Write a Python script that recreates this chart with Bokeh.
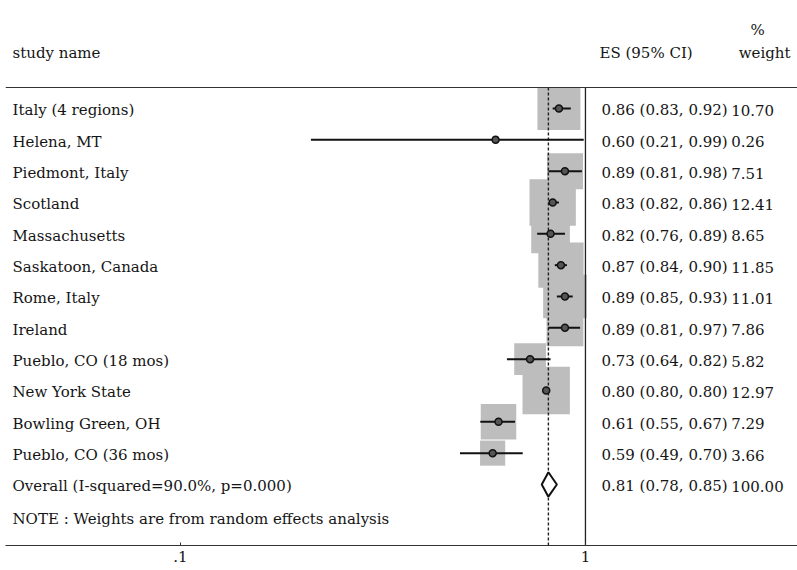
import numpy as np
from bokeh.plotting import figure
from bokeh.models import ColumnDataSource, Range1d, FixedTicker, Span
from bokeh.core.properties import value
from bokeh.embed import file_html
from bokeh.resources import INLINE

# ---- study-level results (effect size, 95% CI, random-effects weight %) ----
studies = ["Italy (4 regions)", "Helena, MT", "Piedmont, Italy", "Scotland",
           "Massachusetts", "Saskatoon, Canada", "Rome, Italy", "Ireland",
           "Pueblo, CO (18 mos)", "New York State", "Bowling Green, OH",
           "Pueblo, CO (36 mos)"]
es = [0.86, 0.60, 0.89, 0.83, 0.82, 0.87, 0.89, 0.89, 0.73, 0.80, 0.61, 0.59]
ci_low = [0.83, 0.21, 0.81, 0.82, 0.76, 0.84, 0.85, 0.81, 0.64, 0.80, 0.55, 0.49]
ci_high = [0.92, 0.99, 0.98, 0.86, 0.89, 0.90, 0.93, 0.97, 0.82, 0.80, 0.67, 0.70]
weight_pct = [10.70, 0.26, 7.51, 12.41, 8.65, 11.85, 11.01, 7.86, 5.82, 12.97, 7.29, 3.66]

# ---- pooled estimate ----
overall_label = "Overall (I-squared=90.0%, p=0.000)"
overall_es = 0.81
overall_low = 0.78
overall_high = 0.85
overall_weight = 100.00

note_text = "NOTE : Weights are from random effects analysis"
tick_values = [0.1, 1]
tick_labels = [".1", "1"]

# ---- layout constants ----
FONT = value("DejaVu Serif")
FS = "15px"
TXT = "#151515"
BOX_SCALE = 13.15          # square side in px per sqrt(weight %)
NAME_X = 0.0385            # left text column (data units on the log axis)
ES_X = 1.095               # "ES (95% CI)" column
W_X = 2.29                 # weight column
HEAD_Y = -1.85
PCT_Y = -2.58
TOP_RULE = -0.67
NOTE_Y = 13.05
Y_BOTTOM = 13.948

n = len(studies)
rows = list(range(n))
overall_row = n

src = ColumnDataSource(dict(
    y=rows, es=es, lo=ci_low, hi=ci_high, w=weight_pct,
    side=[BOX_SCALE * np.sqrt(w) for w in weight_pct],
    name=studies,
    es_txt=[f"{e:.2f} ({l:.2f},  {h:.2f})" for e, l, h in zip(es, ci_low, ci_high)],
    w_txt=[f"{w:.2f}" for w in weight_pct],
))

p = figure(width=797, height=570, x_axis_type="log",
           x_range=Range1d(0.037, 3.338), y_range=Range1d(Y_BOTTOM, -3.447),
           output_backend="svg", toolbar_location=None, y_axis_location=None,
           min_border_left=5, min_border_right=0, min_border_top=0,
           min_border_bottom=25)
p.outline_line_color = None
p.grid.visible = False
p.background_fill_color = "white"

# weight boxes
p.scatter("es", "y", source=src, marker="square", size="side",
          fill_color="#bdbdbd", line_color=None)

# reference line at 1 and dashed line at the pooled estimate
p.segment(x0=[1], y0=[TOP_RULE], x1=[1], y1=[Y_BOTTOM],
          line_color="#222222", line_width=1.3)
p.segment(x0=[overall_es], y0=[TOP_RULE], x1=[overall_es], y1=[Y_BOTTOM],
          line_color="#222222", line_width=1.4, line_dash="3 2")

# confidence intervals and point estimates
p.segment("lo", "y", "hi", "y", source=src, line_color="#111111", line_width=2)
p.scatter("es", "y", source=src, marker="circle", size=7,
          fill_color="#555555", line_color="#111111", line_width=1.5)

# pooled diamond
dh = 0.39
p.patch([overall_low, overall_es, overall_high, overall_es],
        [overall_row, overall_row - dh, overall_row, overall_row + dh],
        fill_color="white", line_color="#111111", line_width=2)

# header rule
p.add_layout(Span(location=TOP_RULE, dimension="width",
                  line_color="#333333", line_width=1.2))

# text columns
common = dict(text_font=FONT, text_font_size=FS, text_color=TXT,
              text_baseline="middle", y_offset=2)
p.text(x=NAME_X, y="y", text="name", source=src, text_align="left", **common)
p.text(x=ES_X, y="y", text="es_txt", source=src, text_align="left", **common)
p.text(x=W_X, y="y", text="w_txt", source=src, text_align="left", **common)

p.text(x=[NAME_X], y=[overall_row], text=[overall_label], text_align="left", **common)
p.text(x=[ES_X], y=[overall_row],
       text=[f"{overall_es:.2f} ({overall_low:.2f},  {overall_high:.2f})"],
       text_align="left", **common)
p.text(x=[W_X], y=[overall_row], text=[f"{overall_weight:.2f}"],
       text_align="left", **common)
p.text(x=[NAME_X], y=[NOTE_Y], text=[note_text], text_align="left", **common)

# headers
p.text(x=[NAME_X], y=[HEAD_Y], text=["study name"], text_align="left", **common)
p.text(x=[1.083], y=[HEAD_Y], text=["ES (95% CI)"], text_align="left", **common)
p.text(x=[3.208], y=[HEAD_Y], text=["weight"], text_align="right", **common)
p.text(x=[2.66], y=[PCT_Y], text=["%"], text_align="center", **common)

# bottom log axis
ax = p.xaxis[0]
ax.ticker = FixedTicker(ticks=tick_values, minor_ticks=[])
ax.major_label_overrides = dict(zip(tick_values, tick_labels))
ax.major_tick_in = 3
ax.major_tick_out = 0
ax.minor_tick_line_color = None
ax.axis_line_color = "#333333"
ax.axis_line_width = 1.2
ax.major_tick_line_color = "#333333"
ax.major_label_standoff = 5
ax.major_label_text_font = "DejaVu Serif"
ax.major_label_text_font_size = FS
ax.major_label_text_color = TXT

open("out.html", "w").write(file_html(p, INLINE))
